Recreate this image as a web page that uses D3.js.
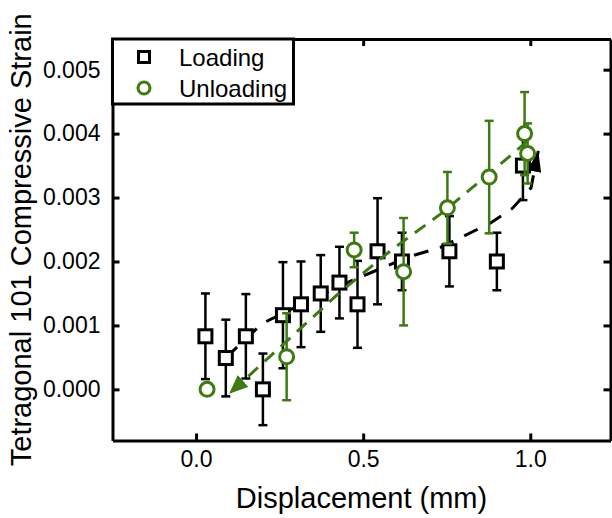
<!DOCTYPE html>
<html>
<head>
<meta charset="utf-8">
<title>Tetragonal 101 strain</title>
<style>
  body { margin: 0; background: #fff; }
  svg { font-family: "Liberation Sans", Arial, sans-serif; }
  .axis path, .axis line { stroke: #000; stroke-width: 3; }
  .axis text { font-size: 23px; fill: #000; }
  .title { font-size: 29px; fill: #000; }
  .legend text { font-size: 24px; }
</style>
</head>
<body>
<script src="https://cdn.jsdelivr.net/npm/d3@7"></script>
<script>
// loading series (black squares)
var loadX   = [0.028, 0.089, 0.149, 0.200, 0.260, 0.314, 0.373, 0.429, 0.483, 0.543, 0.616, 0.758, 0.900, 0.978];
var loadY   = [0.00083, 0.00049, 0.00083, 0.00000, 0.00116, 0.00133, 0.00150, 0.00167, 0.00133, 0.00216, 0.00200, 0.00216, 0.00200, 0.00350];
var loadErr = [0.00067, 0.00060, 0.00066, 0.00056, 0.00083, 0.00067, 0.00060, 0.00056, 0.00068, 0.00083, 0.00045, 0.00055, 0.00045, 0.00054];

// unloading series (green circles)
var unloadX   = [0.033, 0.271, 0.473, 0.621, 0.752, 0.877, 0.983, 0.992];
var unloadY   = [0.00000, 0.00051, 0.00218, 0.00184, 0.00284, 0.00332, 0.00400, 0.00369];
var unloadErr = [0, 0.00068, 0.00027, 0.00084, 0.00056, 0.00088, 0.00065, 0.00047];

// dashed guide arrows
var loadGuideX = [0.090, 0.198, 0.260, 0.461, 0.635, 0.731, 0.880, 0.946, 1.002, 1.024];
var loadGuideY = [0.00050, 0.00103, 0.00119, 0.00169, 0.00207, 0.00222, 0.00260, 0.00283, 0.00315, 0.00373];
var unloadGuideX = [0.991, 0.910, 0.731, 0.587, 0.431, 0.099];
var unloadGuideY = [0.00388, 0.00352, 0.00274, 0.00219, 0.00152, -0.00007];

var xTicks = [0.0, 0.5, 1.0];
var yTicks = [0.000, 0.001, 0.002, 0.003, 0.004, 0.005];
var seriesNames = ["Loading", "Unloading"];

var green = "#3d7a12";
var W = 612, H = 518;
var pL = 112.5, pR = 610.5, pT = 39, pB = 440.5;

var x = d3.scaleLinear().domain([-0.25, 1.24]).range([pL, pR]);
var y = d3.scaleLinear().domain([-0.0008, 0.00548]).range([pB, pT]);

var svg = d3.select("body").append("svg").attr("width", W).attr("height", H);

var defs = svg.append("defs");
function arrow(id, col, len, hw) {
  defs.append("marker").attr("id", id)
      .attr("viewBox", "0 " + (-hw) + " " + len + " " + (2 * hw))
      .attr("refX", len).attr("refY", 0)
      .attr("markerWidth", len).attr("markerHeight", 2 * hw)
      .attr("markerUnits", "userSpaceOnUse")
      .attr("orient", "auto")
    .append("path").attr("d", "M0," + (-hw) + "L" + len + ",0L0," + hw + "Z").attr("fill", col);
}
arrow("arrK", "#000", 21, 7);
arrow("arrG", green, 19, 8);

function pts(xs, ys, es) { return xs.map(function (v, i) { return {x: v, y: ys[i], e: es ? es[i] : 0}; }); }
var load = pts(loadX, loadY, loadErr), unload = pts(unloadX, unloadY, unloadErr);

var line = d3.line().x(function (d) { return x(d.x); }).y(function (d) { return y(d.y); });

function errorBars(data, col) {
  var g = svg.append("g").attr("stroke", col).attr("stroke-width", 2.5);
  data.filter(function (d) { return d.e > 0; }).forEach(function (d) {
    var cx = x(d.x);
    g.append("line").attr("x1", cx).attr("x2", cx).attr("y1", y(d.y - d.e)).attr("y2", y(d.y + d.e));
    g.append("line").attr("x1", cx - 4.5).attr("x2", cx + 4.5).attr("y1", y(d.y - d.e)).attr("y2", y(d.y - d.e));
    g.append("line").attr("x1", cx - 4.5).attr("x2", cx + 4.5).attr("y1", y(d.y + d.e)).attr("y2", y(d.y + d.e));
  });
}

// loading
svg.append("path").datum(pts(loadGuideX, loadGuideY))
    .attr("d", line).attr("fill", "none").attr("stroke", "#000").attr("stroke-width", 3)
    .attr("stroke-dasharray", "15,12").attr("marker-end", "url(#arrK)");
errorBars(load, "#000");
svg.append("g").selectAll("rect").data(load).enter().append("rect")
    .attr("x", function (d) { return x(d.x) - 6.5; }).attr("y", function (d) { return y(d.y) - 6.5; })
    .attr("width", 13).attr("height", 13)
    .attr("fill", "#fff").attr("stroke", "#000").attr("stroke-width", 3);

// unloading
svg.append("path").datum(pts(unloadGuideX, unloadGuideY))
    .attr("d", line).attr("fill", "none").attr("stroke", green).attr("stroke-width", 3)
    .attr("stroke-dasharray", "13,9").attr("marker-end", "url(#arrG)");
errorBars(unload, green);
svg.append("g").selectAll("circle").data(unload).enter().append("circle")
    .attr("cx", function (d) { return x(d.x); }).attr("cy", function (d) { return y(d.y); })
    .attr("r", 7).attr("fill", "#fff").attr("stroke", green).attr("stroke-width", 3);

// axes, ticks inward on all four sides
svg.append("g").attr("class", "axis").attr("transform", "translate(0," + pB + ")")
    .call(d3.axisBottom(x).tickValues(xTicks).tickFormat(d3.format(".1f")).tickSizeInner(-7).tickSizeOuter(0).tickPadding(10));
svg.append("g").attr("class", "axis").attr("transform", "translate(0," + pT + ")")
    .call(d3.axisTop(x).tickValues(xTicks).tickFormat("").tickSizeInner(-7).tickSizeOuter(0));
svg.append("g").attr("class", "axis").attr("transform", "translate(" + pL + ",0)")
    .call(d3.axisLeft(y).tickValues(yTicks).tickFormat(d3.format(".3f")).tickSizeInner(-7).tickSizeOuter(0).tickPadding(12));
svg.append("g").attr("class", "axis").attr("transform", "translate(" + pR + ",0)")
    .call(d3.axisRight(y).tickValues(yTicks).tickFormat("").tickSizeInner(-7).tickSizeOuter(0));
svg.selectAll(".axis").attr("font-family", null);

// legend
var lg = svg.append("g").attr("class", "legend");
lg.append("rect").attr("x", pL).attr("y", pT).attr("width", 181).attr("height", 65)
    .attr("fill", "#fff").attr("stroke", "#000").attr("stroke-width", 3);
lg.append("rect").attr("x", 138.5).attr("y", 51.5).attr("width", 11).attr("height", 11)
    .attr("fill", "#fff").attr("stroke", "#000").attr("stroke-width", 3);
lg.append("circle").attr("cx", 144).attr("cy", 88).attr("r", 6)
    .attr("fill", "#fff").attr("stroke", green).attr("stroke-width", 3);
lg.selectAll("text").data(seriesNames).enter().append("text")
    .attr("x", 179).attr("y", function (d, i) { return 65.5 + i * 31; }).text(function (d) { return d; });

// titles
svg.append("text").attr("class", "title").attr("text-anchor", "middle")
    .attr("x", (pL + pR) / 2).attr("y", 508).text("Displacement (mm)");
svg.append("text").attr("class", "title").attr("text-anchor", "middle")
    .attr("transform", "translate(31," + ((pT + pB) / 2) + ") rotate(-90)")
    .text("Tetragonal 101 Compressive Strain");
</script>
</body>
</html>
